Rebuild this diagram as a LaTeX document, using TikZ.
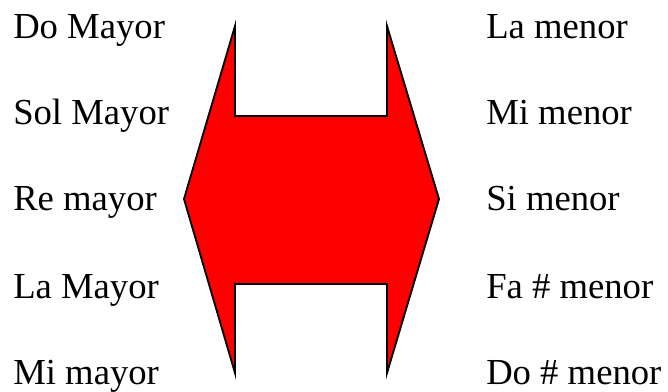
\documentclass[tikz,border=0pt]{standalone}
\usepackage{fontspec}
\setmainfont{Liberation Serif}
\usepackage{xcolor}
\usepackage{tikz}
\usetikzlibrary{positioning}

\begin{document}
\begin{tikzpicture}[
    x=0.75pt, y=-0.75pt,
    key/.style={anchor=base west, inner sep=0pt, font=\fontsize{27.5}{32}\selectfont},
    bigarrow/.style={draw=black, line width=1.4pt, fill=red, line join=miter}
]
\useasboundingbox (0,0) rectangle (668,392);

% Major keys
\node[key] (domay) at (13, 39) {Do Mayor};
\node[key] (solmay) at (13, 125) {Sol Mayor};
\node[key] (remay) at (13, 211) {Re mayor};
\node[key] (lamay) at (13, 298) {La Mayor};
\node[key] (mimay) at (13, 384) {Mi mayor};

% Relative minor keys
\node[key] (lamen) at (486, 39) {La menor};
\node[key] (mimen) at (486, 125) {Mi menor};
\node[key] (simen) at (486, 211) {Si menor};
\node[key] (fasmen) at (486, 298) {Fa \# menor};
\node[key] (dosmen) at (486, 384) {Do \# menor};

% Double arrow
\draw[bigarrow] (235, 26) -- (235, 116) -- (387, 116) -- (387, 26)
    -- (439, 199) -- (387, 373) -- (387, 284) -- (235, 284)
    -- (235, 373) -- (184, 199) -- cycle;

\end{tikzpicture}
\end{document}
